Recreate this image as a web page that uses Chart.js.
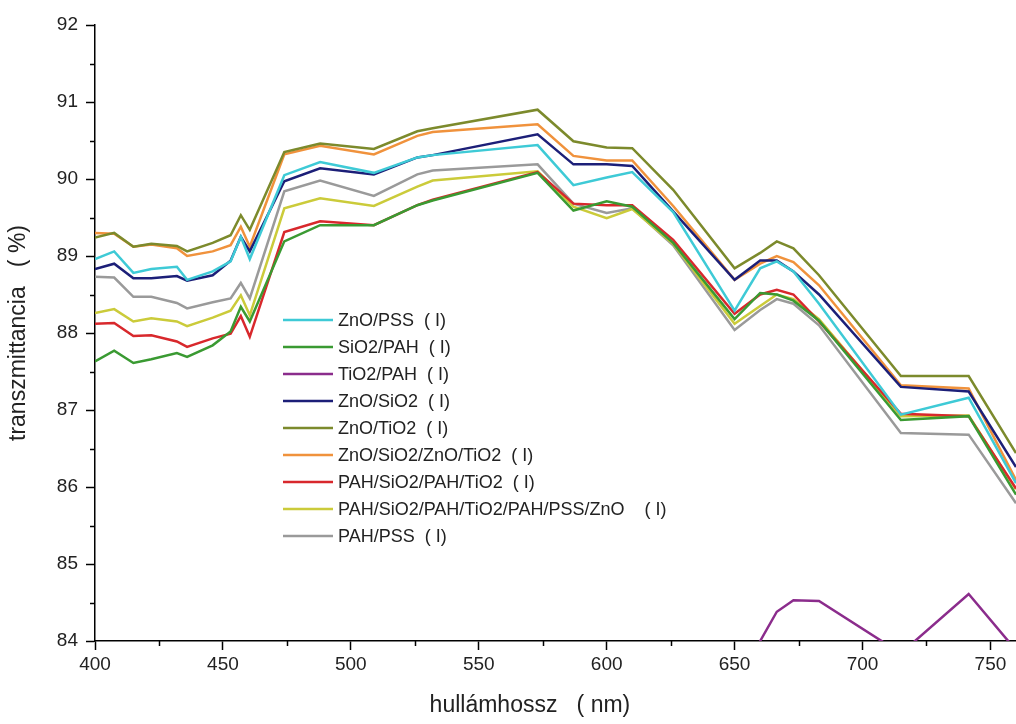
<!DOCTYPE html>
<html>
<head>
<meta charset="utf-8">
<script src="https://cdn.jsdelivr.net/npm/chart.js@4/dist/chart.umd.min.js"></script>
<style>
  html, body { margin: 0; padding: 0; background: #fff; }
  #wrap { position: relative; width: 1016px; height: 724px; }
</style>
</head>
<body>
<div id="wrap"><canvas id="c" width="1016" height="724"></canvas></div>
<script>
// ---- data ----
const wavelengths = [400, 407.5, 415, 422, 432, 436, 446, 453, 457, 460.5, 474, 488, 509, 526, 532, 573, 587, 600, 610, 626, 650, 660, 666.5, 673, 683, 715, 741.5, 760];

const seriesNames = [
  'ZnO/PSS  ( I)',
  'SiO2/PAH  ( I)',
  'TiO2/PAH  ( I)',
  'ZnO/SiO2  ( I)',
  'ZnO/TiO2  ( I)',
  'ZnO/SiO2/ZnO/TiO2  ( I)',
  'PAH/SiO2/PAH/TiO2  ( I)',
  'PAH/SiO2/PAH/TiO2/PAH/PSS/ZnO    ( I)',
  'PAH/PSS  ( I)'
];

const znoPss      = [88.96, 89.06, 88.78, 88.83, 88.86, 88.69, 88.80, 88.93, 89.25, 88.96, 90.05, 90.22, 90.08, 90.28, 90.31, 90.44, 89.92, 90.02, 90.09, 89.57, 88.29, 88.84, 88.93, 88.80, 88.38, 86.94, 87.16, 86.05];
const sio2Pah     = [87.63, 87.77, 87.61, 87.66, 87.74, 87.69, 87.84, 88.02, 88.34, 88.15, 89.19, 89.40, 89.40, 89.66, 89.72, 90.08, 89.59, 89.71, 89.64, 89.17, 88.18, 88.52, 88.50, 88.42, 88.16, 86.87, 86.92, 85.90];
const tio2Pah     = [82.60, 82.70, 82.50, 82.55, 82.60, 82.50, 82.60, 82.70, 82.90, 82.70, 83.00, 83.10, 83.05, 83.20, 83.25, 83.40, 83.20, 83.25, 83.30, 83.10, 83.30, 84.00, 84.38, 84.53, 84.52, 83.84, 84.61, 83.88];
const znoSio2     = [88.83, 88.90, 88.71, 88.71, 88.74, 88.68, 88.75, 88.94, 89.25, 89.06, 89.97, 90.14, 90.06, 90.28, 90.31, 90.58, 90.19, 90.19, 90.17, 89.58, 88.69, 88.94, 88.94, 88.80, 88.50, 87.30, 87.24, 86.26];
const znoTio2     = [89.24, 89.30, 89.12, 89.16, 89.13, 89.06, 89.17, 89.27, 89.53, 89.34, 90.35, 90.46, 90.39, 90.62, 90.66, 90.90, 90.49, 90.41, 90.40, 89.86, 88.84, 89.04, 89.19, 89.10, 88.75, 87.44, 87.44, 86.44];
const znoSio2ZnoTio2 = [89.30, 89.29, 89.12, 89.15, 89.10, 89.00, 89.06, 89.14, 89.38, 89.12, 90.32, 90.43, 90.32, 90.56, 90.61, 90.71, 90.30, 90.24, 90.24, 89.65, 88.69, 88.90, 89.00, 88.92, 88.62, 87.32, 87.28, 86.09];
const pahSio2PahTio2 = [88.12, 88.13, 87.96, 87.97, 87.89, 87.82, 87.93, 87.99, 88.22, 87.95, 89.31, 89.45, 89.40, 89.66, 89.73, 90.09, 89.68, 89.66, 89.66, 89.21, 88.25, 88.50, 88.56, 88.50, 88.15, 86.95, 86.92, 85.98];
const pahLong     = [88.26, 88.31, 88.15, 88.19, 88.15, 88.09, 88.20, 88.29, 88.49, 88.23, 89.62, 89.75, 89.65, 89.90, 89.98, 90.10, 89.64, 89.49, 89.61, 89.16, 88.12, 88.35, 88.50, 88.44, 88.18, 86.92, 86.93, 85.97];
const pahPss      = [88.73, 88.72, 88.47, 88.47, 88.39, 88.32, 88.40, 88.45, 88.65, 88.45, 89.84, 89.98, 89.78, 90.06, 90.11, 90.19, 89.68, 89.56, 89.62, 89.14, 88.04, 88.30, 88.44, 88.38, 88.10, 86.70, 86.68, 85.79];

const xTickValues = [400, 425, 450, 475, 500, 525, 550, 575, 600, 625, 650, 675, 700, 725, 750];
const xTicksMajor = [400, 450, 500, 550, 600, 650, 700, 750];
const yTicksMajor = [84, 85, 86, 87, 88, 89, 90, 91, 92];

const xTitle = 'hullámhossz   ( nm)';
const yTitle = 'transzmittancia   ( %)';

// ---- styles ----
const seriesValues = [znoPss, sio2Pah, tio2Pah, znoSio2, znoTio2, znoSio2ZnoTio2, pahSio2PahTio2, pahLong, pahPss];
const seriesColors = ['#3ecad6', '#3a9a32', '#8b2c8c', '#1c1f78', '#7c8a2c', '#f0923c', '#d8282c', '#cbcb3a', '#9a9a9a'];

const datasets = seriesValues.map((vals, i) => ({
  label: seriesNames[i],
  data: wavelengths.map((w, j) => ({ x: w, y: vals[j] })),
  borderColor: seriesColors[i],
  backgroundColor: seriesColors[i],
  borderWidth: 2.5,
  pointRadius: 0,
  tension: 0,
  fill: false
}));

const FONT = "'Liberation Sans', Arial, sans-serif";

// plugin: short minor ticks + in-plot legend
const extras = {
  id: 'extras',
  afterDraw(chart) {
    const ctx = chart.ctx;
    const xs = chart.scales.x, ys = chart.scales.y;
    ctx.save();
    ctx.strokeStyle = '#000';
    ctx.lineWidth = 1.5;
    xs.ticks.forEach(t => {
      if (!xTicksMajor.includes(t.value)) {
        const px = Math.round(xs.getPixelForValue(t.value)) + 0.5;
        ctx.beginPath(); ctx.moveTo(px, xs.top); ctx.lineTo(px, xs.top + 5); ctx.stroke();
      }
    });
    ys.ticks.forEach(t => {
      if (!yTicksMajor.includes(t.value)) {
        const py = Math.round(ys.getPixelForValue(t.value)) + 0.5;
        ctx.beginPath(); ctx.moveTo(ys.right, py); ctx.lineTo(ys.right - 5, py); ctx.stroke();
      }
    });
    const lx0 = 283, lx1 = 333, tx = 338, ty0 = 320, dy = 27;
    ctx.font = '18px ' + FONT;
    ctx.textBaseline = 'middle';
    ctx.textAlign = 'left';
    chart.data.datasets.forEach((ds, i) => {
      const y = ty0 + i * dy;
      ctx.strokeStyle = ds.borderColor;
      ctx.lineWidth = 2.5;
      ctx.beginPath(); ctx.moveTo(lx0, y); ctx.lineTo(lx1, y); ctx.stroke();
      ctx.fillStyle = '#222';
      ctx.fillText(ds.label, tx, y + 1);
    });
    ctx.restore();
  }
};

new Chart(document.getElementById('c'), {
  type: 'line',
  data: { datasets },
  options: {
    responsive: false,
    animation: false,
    devicePixelRatio: 1,
    layout: { padding: { top: 25, right: 0, left: 0, bottom: 0 } },
    plugins: { legend: { display: false }, tooltip: { enabled: false } },
    scales: {
      x: {
        type: 'linear',
        min: 400, max: 760,
        afterBuildTicks: (s) => { s.ticks = xTickValues.map(v => ({ value: v })); },
        afterFit: (s) => { s.height = 83; },
        ticks: {
          autoSkip: false,
          maxRotation: 0,
          padding: 3,
          color: '#222',
          font: { family: FONT, size: 19 },
          callback: (v) => xTicksMajor.includes(v) ? String(v) : ''
        },
        grid: {
          drawOnChartArea: false,
          drawTicks: true,
          tickLength: 9,
          tickWidth: 1.5,
          tickColor: (c) => (c.tick && xTicksMajor.includes(c.tick.value)) ? '#000' : 'rgba(0,0,0,0)'
        },
        border: { display: true, color: '#000', width: 1.5 },
        title: {
          display: true,
          text: xTitle + '        ',
          color: '#222',
          font: { family: FONT, size: 23 },
          padding: { top: 0, bottom: 5 }
        }
      },
      y: {
        type: 'linear',
        min: 84, max: 92,
        afterFit: (s) => { s.width = 95; },
        ticks: {
          stepSize: 0.5,
          autoSkip: false,
          padding: 8,
          color: '#222',
          font: { family: FONT, size: 19 },
          callback: (v) => yTicksMajor.includes(v) ? String(v) : ''
        },
        grid: {
          drawOnChartArea: false,
          drawTicks: true,
          tickLength: 9,
          tickWidth: 1.5,
          tickColor: (c) => (c.tick && yTicksMajor.includes(c.tick.value)) ? '#000' : 'rgba(0,0,0,0)'
        },
        border: { display: true, color: '#000', width: 1.5 },
        title: {
          display: true,
          text: yTitle,
          color: '#222',
          font: { family: FONT, size: 23 },
          padding: { top: 5, bottom: 0 }
        }
      }
    }
  },
  plugins: [extras]
});
</script>
</body>
</html>
